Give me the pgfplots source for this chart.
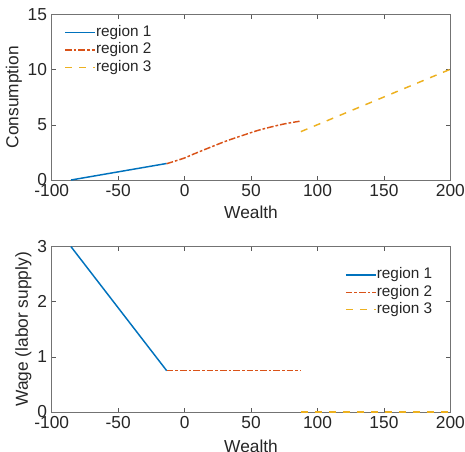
\documentclass[border=0pt]{standalone}
\usepackage{fontspec}
\setmainfont{Liberation Sans}
\usepackage{pgfplots}
\pgfplotsset{compat=1.18}

\definecolor{mblue}{rgb}{0,0.447,0.741}
\definecolor{mred}{rgb}{0.85,0.325,0.098}
\definecolor{myellow}{rgb}{0.929,0.694,0.125}
\definecolor{mtext}{rgb}{0.15,0.15,0.15}

\tikzset{
  reg1/.style={mblue, solid, line width=1.1pt},
  reg2/.style={mred, line width=1.1pt, dash pattern=on 5pt off 1.5pt on 2pt off 1.5pt},
  reg3/.style={myellow, line width=1.1pt, dash pattern=on 5.25pt off 5.25pt},
}

% legend keys are drawn by hand: the legend matrix lost its colours under xdvipdfmx
\newcommand{\legrow}[4]{%
  \draw[#3] (axis description cs:#1,#2) -- ++(22.5pt,0pt);
  \node[anchor=west, inner xsep=0.6pt, text=mtext, font=\fontsize{11.5}{13}\selectfont]
    at ([xshift=22.5pt]axis description cs:#1,#2) {#4};}

\pgfplotsset{
  mfig/.style={
    scale only axis, width=299pt, height=124pt,
    xmin=-100, xmax=200, xtick={-100,-50,0,50,100,150,200},
    axis line style={black!55, line width=0.6pt},
    tick style={black!65, line width=0.5pt},
    tick align=inside, major tick length=3pt,
    xtick pos=both, ytick pos=both,
    xticklabel pos=bottom, yticklabel pos=left,
    tick label style={font=\fontsize{13}{15}\selectfont, color=mtext},
    /pgf/number format/assume math mode=true,
    xlabel={Wealth},
    every axis x label/.style={at={(axis description cs:0.5,-0.195)}, anchor=center,
      font=\fontsize{13}{15}\selectfont, color=mtext},
    ylabel style={font=\fontsize{13}{15}\selectfont, color=mtext, yshift=-2.5pt},
    clip=false,
  },
}

\begin{document}
\begin{tikzpicture}
\path[use as bounding box] (0pt,0pt) rectangle (348.75pt,-338.25pt);

\begin{axis}[mfig, at={(38.8pt,-135pt)}, anchor=south west,
  ymin=0, ymax=15, ytick={0,5,10,15},
  ylabel={Consumption}]
  \addplot[reg1] coordinates {(-85.5,0) (-13.5,1.5)};
  \addplot[reg2, smooth] coordinates {
    (-13.5,1.48) (0,2.0) (6.5,2.34) (20,3.0) (31.6,3.55) (45,4.1) (56.6,4.55) (71.6,5.0) (80,5.2) (86.5,5.33)};
  \addplot[reg3] coordinates {(87.5,4.39) (200,10.05)};
  \legrow{0.0333}{0.893}{reg1}{region 1}
  \legrow{0.0333}{0.787}{reg2}{region 2}
  \legrow{0.0333}{0.681}{reg3}{region 3}
\end{axis}

\begin{axis}[mfig, at={(38.8pt,-309pt)}, anchor=south west,
  ymin=0, ymax=3, ytick={0,1,2,3},
  ylabel={Wage (labor supply)},
  every axis x label/.append style={at={(axis description cs:0.5,-0.205)}}]
  \addplot[reg1] coordinates {(-85.5,3) (-13.5,0.75)};
  \addplot[reg2] coordinates {(-13.5,0.75) (87,0.75)};
  \addplot[reg3] coordinates {(87.5,0) (200,0)};
  \legrow{0.7376}{0.830}{reg1}{region 1}
  \legrow{0.7376}{0.724}{reg2}{region 2}
  \legrow{0.7376}{0.619}{reg3}{region 3}
\end{axis}
\end{tikzpicture}
\end{document}
